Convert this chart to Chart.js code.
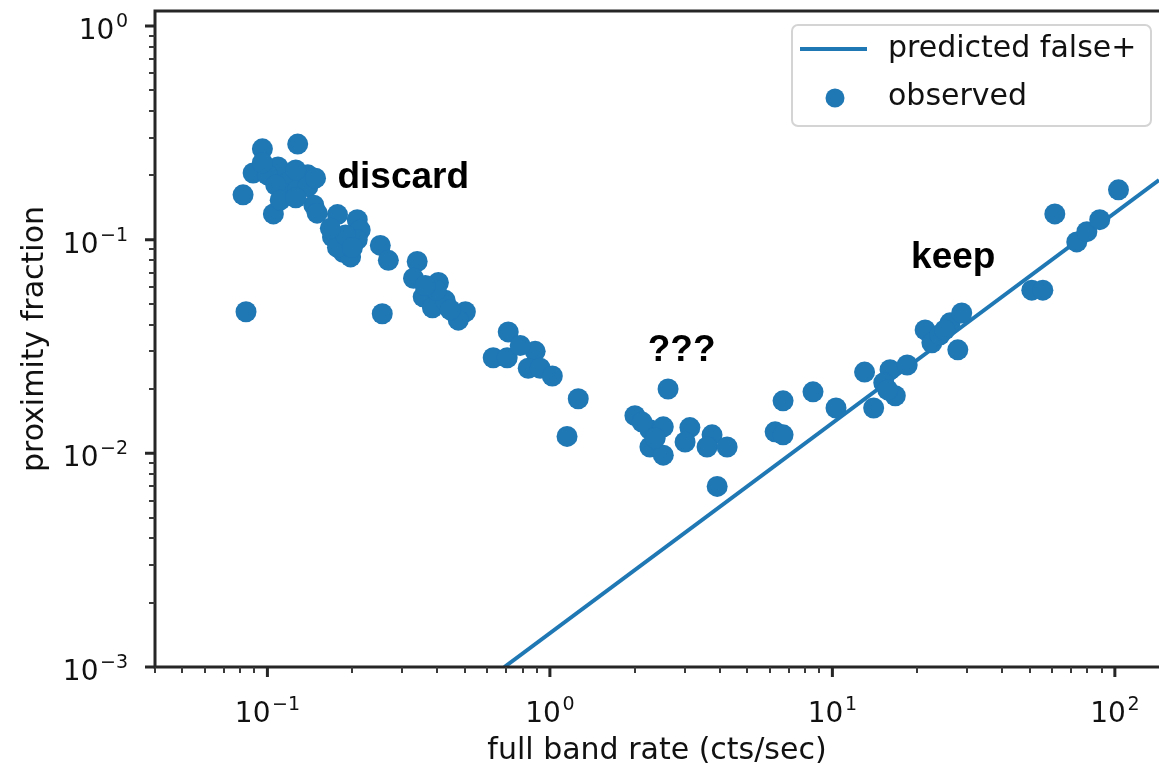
<!DOCTYPE html>
<html>
<head>
<meta charset="utf-8">
<script src="https://cdn.jsdelivr.net/npm/chart.js@4/dist/chart.umd.min.js"></script>
<style>
  html, body { margin: 0; padding: 0; background: #ffffff; overflow: hidden; }
  #wrap { position: relative; width: 1159px; height: 769px; }
</style>
</head>
<body>
<div id="wrap"><canvas id="c" width="1159" height="769"></canvas></div>
<script>
// Observed sources: full band count rate and proximity fraction
const rateObserved = [
  0.082, 0.084, 0.096, 0.128, 0.105, 0.089, 0.109, 0.100, 0.118, 0.139,
  0.114, 0.128, 0.139, 0.146, 0.150, 0.177, 0.170, 0.208, 0.213, 0.186,
  0.197, 0.177, 0.208, 0.189, 0.251, 0.268, 0.255, 0.339, 0.329, 0.403,
  0.356, 0.384, 0.426, 0.502, 0.474, 0.396, 0.712, 0.630, 0.706, 0.887,
  0.838, 0.924, 1.02, 1.26, 1.15, 0.785, 2.00, 2.62, 2.26, 2.52,
  2.26, 2.52, 3.13, 3.01, 3.75, 3.60, 4.24, 3.91, 2.12, 6.27,
  6.69, 6.69, 8.54, 10.3, 13.0, 14.0, 16.0, 15.2, 16.7, 18.4,
  21.3, 22.5, 24.0, 26.1, 28.7, 27.8, 50.8, 55.6, 61.3, 73.3,
  79.6, 88.4, 103,
  0.096, 0.126, 0.148, 0.107, 0.111, 0.126, 0.167, 0.200, 0.362, 0.444,
  2.36, 25.0, 15.7
];
const fractionObserved = [
  0.162, 0.046, 0.266, 0.280, 0.132, 0.205, 0.219, 0.201, 0.186, 0.201,
  0.165, 0.171, 0.177, 0.145, 0.133, 0.131, 0.103, 0.124, 0.111, 0.087,
  0.083, 0.092, 0.100, 0.105, 0.094, 0.080, 0.045, 0.079, 0.066, 0.063,
  0.054, 0.048, 0.052, 0.046, 0.042, 0.058, 0.037, 0.028, 0.028, 0.030,
  0.025, 0.025, 0.023, 0.018, 0.012, 0.032, 0.015, 0.020, 0.0129, 0.0133,
  0.0107, 0.0098, 0.0132, 0.0113, 0.0122, 0.0107, 0.0107, 0.0070, 0.014, 0.0126,
  0.0122, 0.0176, 0.0194, 0.0163, 0.024, 0.0163, 0.0246, 0.0214, 0.0186, 0.0259,
  0.0378, 0.0329, 0.0358, 0.0408, 0.0454, 0.0305, 0.058, 0.058, 0.132, 0.0976,
  0.109, 0.124, 0.171,
  0.229, 0.212, 0.194, 0.180, 0.153, 0.157, 0.113, 0.092, 0.061, 0.047,
  0.0118, 0.0378, 0.0198
];

// Predicted false-positive fraction (straight line in log-log space)
const predictedRate = [0.69, 143.3];
const predictedFraction = [0.001, 0.19];

// Axis ranges and decade tick labels
const xRange = [0.04, 143.3];
const yRange = [0.001, 1.175];
const xMajorTicks = [0.1, 1, 10, 100];
const xTickExponents = [-1, 0, 1, 2];
const yMajorTicks = [0.001, 0.01, 0.1, 1];
const yTickExponents = [-3, -2, -1, 0];
const minorMultipliers = [2, 3, 4, 5, 6, 7, 8, 9];
const minorDecades = [0.0001, 0.001, 0.01, 0.1, 1, 10, 100];

// Region annotations
const noteText = ['discard', '???', 'keep'];
const noteRate = [0.177, 2.22, 19.0];
const noteFraction = [0.175, 0.027, 0.074];

// Legend entries
const legendLabels = ['predicted false+', 'observed'];

const BLUE = '#1f77b4';
const INK = '#262626';
const TXT = '#111111';

function drawPower(ctx, exp, x, y, align) {
  const base = '10';
  const sup = exp < 0 ? '\u2212' + String(-exp) : String(exp);
  ctx.font = '28px "DejaVu Sans"';
  const wb = ctx.measureText(base).width;
  ctx.font = '19px "DejaVu Sans"';
  const ws = ctx.measureText(sup).width;
  const gap = 1.5;
  const total = wb + gap + ws;
  const left = align === 'right' ? x - total : x - total / 2;
  ctx.textAlign = 'left';
  ctx.textBaseline = 'alphabetic';
  ctx.fillStyle = TXT;
  ctx.font = '28px "DejaVu Sans"';
  ctx.fillText(base, left, y);
  ctx.font = '19px "DejaVu Sans"';
  ctx.fillText(sup, left + wb + gap, y - 12);
}

function roundRect(ctx, x, y, w, h, r) {
  ctx.beginPath();
  ctx.moveTo(x + r, y);
  ctx.lineTo(x + w - r, y);
  ctx.arcTo(x + w, y, x + w, y + r, r);
  ctx.lineTo(x + w, y + h - r);
  ctx.arcTo(x + w, y + h, x + w - r, y + h, r);
  ctx.lineTo(x + r, y + h);
  ctx.arcTo(x, y + h, x, y + h - r, r);
  ctx.lineTo(x, y + r);
  ctx.arcTo(x, y, x + r, y, r);
  ctx.closePath();
}

const framePlugin = {
  id: 'frame',
  afterDraw(chart) {
    const ctx = chart.ctx;
    const xs = chart.scales.x, ys = chart.scales.y;
    const a = chart.chartArea;
    ctx.save();

    // spines: left, bottom, top
    ctx.strokeStyle = INK;
    ctx.lineWidth = 3;
    ctx.lineCap = 'butt';
    ctx.beginPath();
    ctx.moveTo(a.left, a.bottom + 1.5);
    ctx.lineTo(a.left, a.top - 1.5);
    ctx.moveTo(a.left - 1.5, a.top);
    ctx.lineTo(a.right + 2, a.top);
    ctx.moveTo(a.left - 1.5, a.bottom);
    ctx.lineTo(a.right + 2, a.bottom);
    ctx.stroke();

    const inX = v => v >= xRange[0] * 0.999 && v <= xRange[1];
    const inY = v => v >= yRange[0] * 0.999 && v <= yRange[1];

    // minor ticks
    ctx.lineWidth = 2;
    ctx.strokeStyle = '#3a3a3a';
    ctx.beginPath();
    minorDecades.forEach(d => {
      minorMultipliers.forEach(m => {
        const v = d * m;
        if (inX(v)) {
          const px = Math.round(xs.getPixelForValue(v));
          ctx.moveTo(px, a.bottom);
          ctx.lineTo(px, a.bottom + 6);
        }
        if (inY(v)) {
          const py = Math.round(ys.getPixelForValue(v));
          ctx.moveTo(a.left, py);
          ctx.lineTo(a.left - 6, py);
        }
      });
    });
    ctx.stroke();

    // major ticks
    ctx.lineWidth = 3;
    ctx.strokeStyle = INK;
    ctx.beginPath();
    xMajorTicks.forEach(v => {
      if (!inX(v)) return;
      const px = xs.getPixelForValue(v);
      ctx.moveTo(px, a.bottom);
      ctx.lineTo(px, a.bottom + 10);
    });
    yMajorTicks.forEach(v => {
      if (!inY(v)) return;
      const py = ys.getPixelForValue(v);
      ctx.moveTo(a.left, py);
      ctx.lineTo(a.left - 10, py);
    });
    ctx.stroke();

    // decade tick labels
    xMajorTicks.forEach((v, i) => {
      if (!inX(v)) return;
      drawPower(ctx, xTickExponents[i], xs.getPixelForValue(v), a.bottom + 55, 'center');
    });
    yMajorTicks.forEach((v, i) => {
      if (!inY(v)) return;
      drawPower(ctx, yTickExponents[i], a.left - 27, ys.getPixelForValue(v) + 13, 'right');
    });

    // region annotations
    ctx.fillStyle = '#000000';
    ctx.font = 'bold 37px "Liberation Sans"';
    ctx.textAlign = 'left';
    ctx.textBaseline = 'alphabetic';
    noteText.forEach((t, i) => {
      ctx.fillText(t, xs.getPixelForValue(noteRate[i]), ys.getPixelForValue(noteFraction[i]));
    });

    // legend
    const lx = a.right - 367, ly = a.top + 14, lw = 359, lh = 101;
    roundRect(ctx, lx, ly, lw, lh, 6);
    ctx.fillStyle = 'rgba(255,255,255,0.85)';
    ctx.fill();
    ctx.strokeStyle = '#d4d4d4';
    ctx.lineWidth = 2;
    ctx.stroke();

    ctx.strokeStyle = BLUE;
    ctx.lineWidth = 4;
    ctx.beginPath();
    ctx.moveTo(lx + 8, ly + 24);
    ctx.lineTo(lx + 75, ly + 24);
    ctx.stroke();

    ctx.fillStyle = BLUE;
    ctx.beginPath();
    ctx.arc(lx + 43, ly + 73, 9.5, 0, Math.PI * 2);
    ctx.fill();

    ctx.fillStyle = TXT;
    ctx.font = '30px "DejaVu Sans"';
    ctx.textBaseline = 'middle';
    ctx.fillText(legendLabels[0], lx + 96, ly + 24);
    ctx.fillText(legendLabels[1], lx + 96, ly + 72);

    ctx.restore();
  }
};

const observedPoints = rateObserved.map((r, i) => ({ x: r, y: fractionObserved[i] }));
const predictedPoints = predictedRate.map((r, i) => ({ x: r, y: predictedFraction[i] }));

new Chart(document.getElementById('c'), {
  type: 'scatter',
  data: {
    datasets: [
      {
        label: legendLabels[1],
        data: observedPoints,
        pointRadius: 10.5,
        pointHoverRadius: 10.5,
        backgroundColor: BLUE,
        borderWidth: 0,
        order: 0
      },
      {
        label: legendLabels[0],
        data: predictedPoints,
        showLine: true,
        pointRadius: 0,
        borderColor: BLUE,
        borderWidth: 4,
        fill: false,
        order: 1
      }
    ]
  },
  options: {
    responsive: false,
    animation: false,
    devicePixelRatio: 1,
    events: [],
    layout: { autoPadding: false, padding: { top: 11, right: 0, left: 0, bottom: 0 } },
    plugins: {
      legend: { display: false },
      tooltip: { enabled: false }
    },
    scales: {
      x: {
        type: 'logarithmic',
        position: 'bottom',
        min: xRange[0],
        max: xRange[1],
        grid: { display: false },
        border: { display: false },
        ticks: { display: false },
        title: {
          display: true,
          text: 'full band rate (cts/sec)',
          color: TXT,
          font: { family: 'DejaVu Sans', size: 30 },
          padding: { top: 0, bottom: 0 }
        },
        afterFit(s) { s.height = 102; }
      },
      y: {
        type: 'logarithmic',
        position: 'left',
        min: yRange[0],
        max: yRange[1],
        grid: { display: false },
        border: { display: false },
        ticks: { display: false },
        title: {
          display: true,
          text: 'proximity fraction',
          color: TXT,
          font: { family: 'DejaVu Sans', size: 30 },
          padding: { top: 17, bottom: 0 }
        },
        afterFit(s) { s.width = 155; }
      }
    }
  },
  plugins: [framePlugin]
});
</script>
</body>
</html>
